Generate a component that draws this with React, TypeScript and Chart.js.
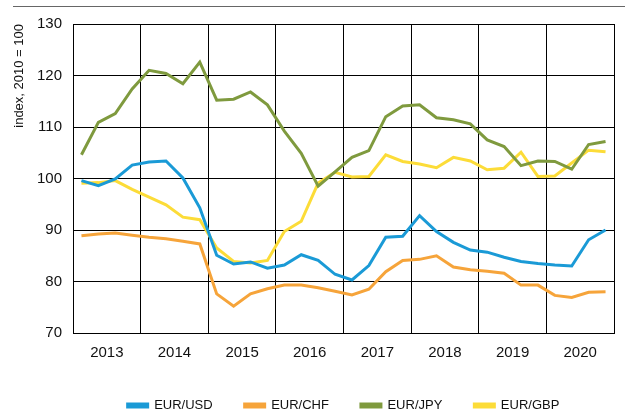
import React, { useEffect, useRef } from "react";
import { Chart, registerables } from "chart.js";

Chart.register(...registerables);

const years = ["2013", "2014", "2015", "2016", "2017", "2018", "2019", "2020"];
const quarters = ["Q1", "Q2", "Q3", "Q4"];

const eurUsd = [99.6, 98.6, 99.9, 102.6, 103.2, 103.4, 100.1, 94.3, 85.1, 83.4, 83.8, 82.6, 83.2, 85.2, 84.1, 81.4, 80.3, 83.1, 88.6, 88.8, 92.8, 89.7, 87.6, 86.1, 85.7, 84.7, 83.9, 83.5, 83.2, 83.0, 88.1, 90.0];
const eurChf = [88.9, 89.2, 89.4, 89.0, 88.6, 88.3, 87.8, 87.3, 77.6, 75.2, 77.6, 78.6, 79.3, 79.3, 78.8, 78.1, 77.4, 78.5, 81.9, 84.1, 84.3, 85.0, 82.8, 82.3, 82.0, 81.6, 79.3, 79.3, 77.3, 76.9, 77.9, 78.0];
const eurJpy = [104.6, 110.9, 112.6, 117.4, 121.0, 120.4, 118.4, 122.6, 115.2, 115.4, 116.8, 114.3, 109.2, 104.9, 98.5, 101.3, 104.1, 105.4, 112.0, 114.1, 114.3, 111.8, 111.4, 110.6, 107.5, 106.2, 102.5, 103.4, 103.3, 101.8, 106.6, 107.2];
const eurGbp = [99.1, 99.2, 99.6, 97.9, 96.4, 94.9, 92.5, 92.0, 86.5, 83.9, 83.6, 84.1, 89.7, 91.7, 99.1, 101.2, 100.3, 100.4, 104.6, 103.3, 102.8, 102.1, 104.1, 103.4, 101.7, 102.0, 105.1, 100.4, 100.5, 103.0, 105.5, 105.2];

const seriesNames = ["EUR/USD", "EUR/CHF", "EUR/JPY", "EUR/GBP"];
const seriesColors = ["#1a9ad6", "#f6a43a", "#7f9a3e", "#fcdc38"];

const FONT = "'Liberation Sans', Arial, sans-serif";

export default function App() {
  const ref = useRef<HTMLCanvasElement>(null);

  useEffect(() => {
    if (!ref.current) return;
    const allSeries = [eurUsd, eurChf, eurJpy, eurGbp];
    const periods: string[] = [];
    years.forEach((y) => quarters.forEach((q) => periods.push(y + q)));
    const datasets = allSeries.map((vals, s) => ({
      label: seriesNames[s],
      data: vals.map((v, i) => ({ x: i + 0.5, y: v, period: periods[i] })),
      borderColor: seriesColors[s],
      backgroundColor: seriesColors[s],
      borderWidth: 3,
      pointRadius: 0,
      tension: 0,
      fill: false,
    }));
    const chart = new Chart(ref.current, {
      type: "line",
      data: { datasets },
      options: {
        animation: false,
        responsive: false,
        maintainAspectRatio: false,
        layout: { padding: { top: 24, left: 0, right: 0, bottom: -10 } },
        plugins: {
          tooltip: { enabled: false },
          legend: {
            position: "bottom",
            fullSize: false,
            labels: {
              boxWidth: 20,
              boxHeight: 3,
              padding: 32,
              color: "#111",
              font: { family: FONT, size: 13 },
            },
          },
        },
        scales: {
          x: {
            type: "linear",
            min: 0,
            max: periods.length,
            afterBuildTicks: (scale: any) => {
              const t = [];
              for (let v = 0; v <= periods.length; v += 2) t.push({ value: v });
              scale.ticks = t;
            },
            afterFit: (scale: any) => {
              scale.height = 34;
            },
            grid: {
              drawTicks: false,
              color: (ctx: any) => (ctx.tick && ctx.tick.value % 4 === 0 ? "#000" : "rgba(0,0,0,0)"),
              lineWidth: 1,
            },
            border: { display: true, color: "#000", width: 1 },
            ticks: {
              autoSkip: false,
              maxRotation: 0,
              padding: 11,
              color: "#111",
              font: { family: FONT, size: 15 },
              callback: (v: any) => {
                const n = Number(v);
                return n % 4 === 2 ? years[(n - 2) / 4] : "";
              },
            },
          },
          y: {
            min: 70,
            max: 130,
            afterFit: (scale: any) => {
              scale.width = 73;
            },
            grid: { drawTicks: false, color: "#000", lineWidth: 1 },
            border: { display: true, color: "#000", width: 1 },
            ticks: {
              stepSize: 10,
              padding: 11,
              color: "#111",
              font: { family: FONT, size: 15 },
            },
            title: {
              display: true,
              text: "index, 2010 = 100",
              align: "end",
              color: "#111",
              font: { family: FONT, size: 13 },
              padding: { top: 12, bottom: 0 },
            },
          },
        },
      },
    });
    return () => chart.destroy();
  }, []);

  return (
    <div style={{ position: "fixed", left: 0, top: 0, width: 625, height: 412, background: "#fff" }}>
      <div style={{ position: "absolute", left: 13, top: 6, width: 612, height: 1, background: "#666" }} />
      <canvas ref={ref} width={625} height={412} style={{ position: "absolute", left: 0, top: 0 }} />
    </div>
  );
}
